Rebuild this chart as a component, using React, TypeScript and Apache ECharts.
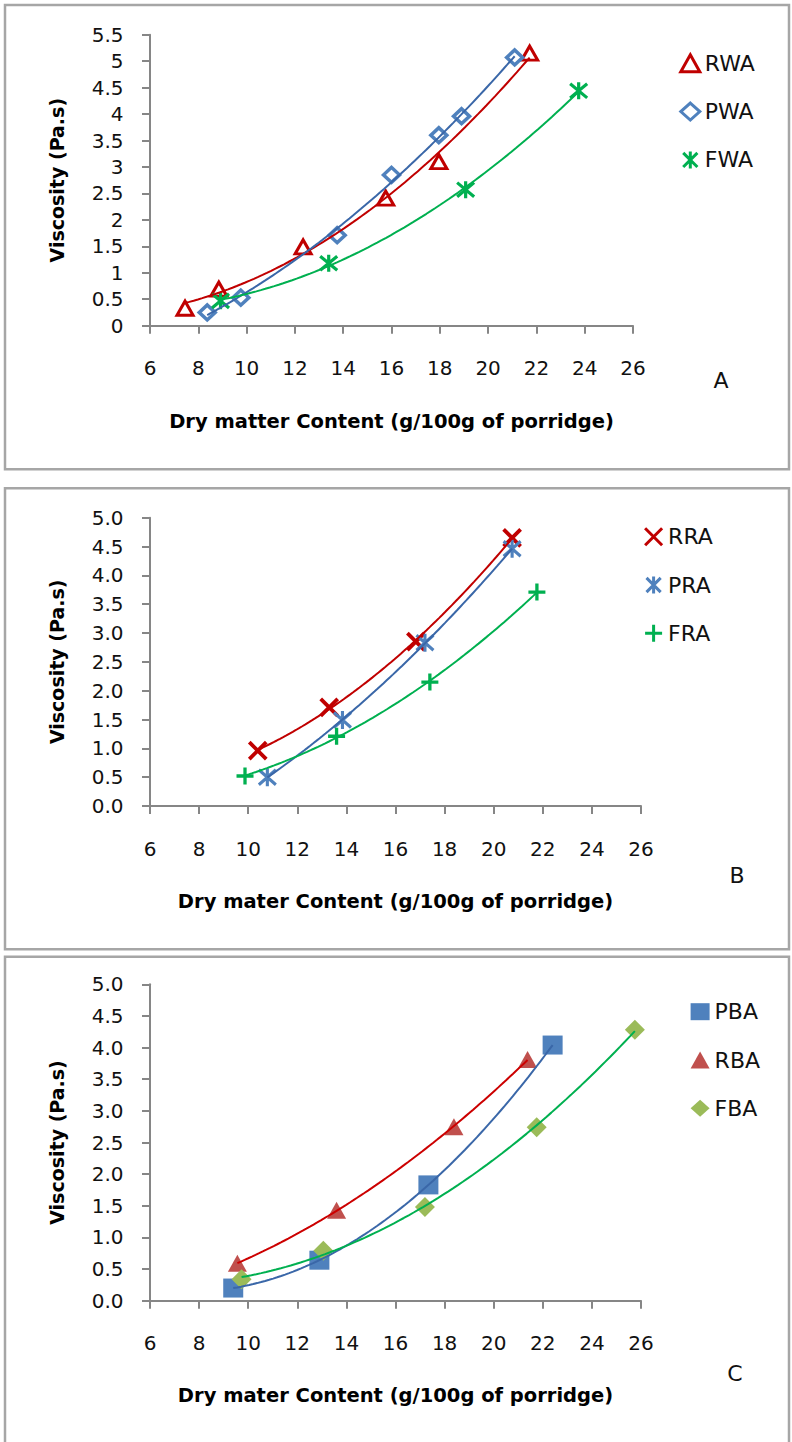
import React, { useEffect, useRef } from "react";
import * as echarts from "echarts";

// ---- Panel A : wheat-based porridges ----
const rwaX = [7.45, 8.85, 12.34, 15.76, 17.96, 21.72];
const rwaY = [0.33, 0.69, 1.49, 2.41, 3.1, 5.15];
const pwaX = [8.37, 9.76, 13.75, 16.0, 17.96, 18.9, 21.1];
const pwaY = [0.25, 0.53, 1.71, 2.85, 3.6, 3.96, 5.07];
const fwaX = [8.92, 13.4, 19.07, 23.75];
const fwaY = [0.47, 1.18, 2.57, 4.44];

// ---- Panel B ----
const rraX = [10.39, 13.3, 16.83, 20.75];
const rraY = [0.96, 1.71, 2.85, 4.65];
const praX = [10.78, 13.84, 17.2, 20.75];
const praY = [0.5, 1.49, 2.83, 4.46];
const fraX = [9.87, 13.6, 17.4, 21.76];
const fraY = [0.52, 1.21, 2.15, 3.71];

// ---- Panel C ----
const pbaX = [9.39, 12.9, 17.34, 22.4];
const pbaY = [0.2, 0.64, 1.83, 4.04];
const rbaX = [9.56, 13.6, 18.38, 21.38];
const rbaY = [0.59, 1.43, 2.75, 3.81];
const fbaX = [9.73, 13.06, 17.2, 21.75, 25.75];
const fbaY = [0.34, 0.79, 1.48, 2.74, 4.28];

// Axis ranges
const xMin = 6;
const xMax = 26;
const xStep = 2;
const yStep = 0.5;
const yMaxA = 5.5;
const yMaxBC = 5.0;

const xTitleA = "Dry matter Content (g/100g of porridge)";
const xTitleBC = "Dry mater Content (g/100g of porridge)";
const yTitle = "Viscosity (Pa.s)";
const panelLetters = ["A", "B", "C"];

const FONT = "'DejaVu Sans', sans-serif";
const AXIS_GREY = "#868686";

const X_MARK = "path://M0,0L10,10M10,0L0,10";
const STAR_MARK = "path://M0,1L10,11M10,1L0,11M5,0L5,12";
const PLUS_MARK = "path://M0,5L10,5M5,0L5,10";

const pairs = (xs: number[], ys: number[]) => xs.map((x, i) => [x, ys[i]]);

// Second-order least-squares trendline evaluated across the series' x range.
function quadTrend(xs: number[], ys: number[], steps = 80): number[][] {
  let n = xs.length, s1 = 0, s2 = 0, s3 = 0, s4 = 0, t0 = 0, t1 = 0, t2 = 0;
  for (let i = 0; i < xs.length; i++) {
    const x = xs[i], y = ys[i];
    s1 += x; s2 += x * x; s3 += x * x * x; s4 += x * x * x * x;
    t0 += y; t1 += x * y; t2 += x * x * y;
  }
  const det = (m: number[][]) =>
    m[0][0] * (m[1][1] * m[2][2] - m[1][2] * m[2][1]) -
    m[0][1] * (m[1][0] * m[2][2] - m[1][2] * m[2][0]) +
    m[0][2] * (m[1][0] * m[2][1] - m[1][1] * m[2][0]);
  const M = [[n, s1, s2], [s1, s2, s3], [s2, s3, s4]];
  const T = [t0, t1, t2];
  const D = det(M);
  const coef = [0, 1, 2].map((k) => det(M.map((row, r) => row.map((v, c) => (c === k ? T[r] : v)))) / D);
  const lo = Math.min(...xs), hi = Math.max(...xs);
  const out: number[][] = [];
  for (let i = 0; i <= steps; i++) {
    const x = lo + ((hi - lo) * i) / steps;
    out.push([x, coef[0] + coef[1] * x + coef[2] * x * x]);
  }
  return out;
}

type PanelCfg = {
  grid: { left: number; top: number; width: number; height: number };
  yMax: number;
  fixed: boolean;
  xTitle: string;
  xNameGap: number;
  legendLeft: number;
  legendTop: number;
  legendBorder: number;
  items: {
    name: string;
    xs: number[];
    ys: number[];
    symbol: string;
    size: number | number[];
    color: string;
    stroke: string;
    border: number;
    line: string;
  }[];
};

const panels: PanelCfg[] = [
  {
    grid: { left: 150, top: 34.7, width: 483, height: 291 },
    yMax: yMaxA,
    fixed: false,
    xTitle: xTitleA,
    xNameGap: 96,
    legendLeft: 679.3,
    legendTop: 52.3,
    legendBorder: 3,
    items: [
      { name: "RWA", xs: rwaX, ys: rwaY, symbol: "triangle", size: [16, 14], color: "#ffffff", stroke: "#c00000", border: 3, line: "#c00000" },
      { name: "PWA", xs: pwaX, ys: pwaY, symbol: "diamond", size: [16, 15], color: "#ffffff", stroke: "#4f81bd", border: 3.5, line: "#3a67a8" },
      { name: "FWA", xs: fwaX, ys: fwaY, symbol: STAR_MARK, size: [17, 17], color: "#00b050", stroke: "#00b050", border: 3.2, line: "#00b050" },
    ],
  },
  {
    grid: { left: 150, top: 517.7, width: 491, height: 288.3 },
    yMax: yMaxBC,
    fixed: true,
    xTitle: xTitleBC,
    xNameGap: 95.7,
    legendLeft: 643.6,
    legendTop: 525.7,
    legendBorder: 3,
    items: [
      { name: "RRA", xs: rraX, ys: rraY, symbol: X_MARK, size: [17, 17], color: "#c00000", stroke: "#c00000", border: 3.8, line: "#c00000" },
      { name: "PRA", xs: praX, ys: praY, symbol: STAR_MARK, size: [17, 18], color: "#4f81bd", stroke: "#4f81bd", border: 3.2, line: "#3a67a8" },
      { name: "FRA", xs: fraX, ys: fraY, symbol: PLUS_MARK, size: [17, 17], color: "#00b050", stroke: "#00b050", border: 3.3, line: "#00b050" },
    ],
  },
  {
    grid: { left: 150, top: 984.3, width: 491, height: 316.4 },
    yMax: yMaxBC,
    fixed: true,
    xTitle: xTitleBC,
    xNameGap: 94.3,
    legendLeft: 690.6,
    legendTop: 1000.7,
    legendBorder: 0,
    items: [
      { name: "PBA", xs: pbaX, ys: pbaY, symbol: "rect", size: [20, 19], color: "#4f81bd", stroke: "#4f81bd", border: 0, line: "#3a67a8" },
      { name: "RBA", xs: rbaX, ys: rbaY, symbol: "triangle", size: [19, 17], color: "#c0504d", stroke: "#c0504d", border: 0, line: "#cc0000" },
      { name: "FBA", xs: fbaX, ys: fbaY, symbol: "diamond", size: [20, 20], color: "#9bbb59", stroke: "#9bbb59", border: 0, line: "#00b050" },
    ],
  },
];

const frames = [
  { y: 5, h: 464.3 },
  { y: 488.3, h: 461 },
  { y: 956.7, h: 520 },
];
const letterPos = [
  { x: 721, y: 380 },
  { x: 737, y: 875 },
  { x: 735, y: 1373 },
];

function buildOption() {
  const grid: any[] = [];
  const xAxis: any[] = [];
  const yAxis: any[] = [];
  const series: any[] = [];
  const legend: any[] = [];

  panels.forEach((p, gi) => {
    grid.push({ ...p.grid, containLabel: false, outerBoundsMode: "none" });
    xAxis.push({
      gridIndex: gi,
      type: "value",
      min: xMin,
      max: xMax,
      interval: xStep,
      axisLine: { show: true, onZero: false, lineStyle: { color: AXIS_GREY, width: 2 } },
      axisTick: { show: true, inside: false, length: 8, lineStyle: { color: AXIS_GREY, width: 2 } },
      axisLabel: { margin: 42.5, verticalAlign: "middle", fontSize: 20, color: "#111", fontFamily: FONT },
      splitLine: { show: false },
      name: p.xTitle,
      nameLocation: "middle",
      nameGap: p.xNameGap,
      nameTextStyle: { fontSize: 19.5, fontWeight: "bold", color: "#000", fontFamily: FONT, verticalAlign: "middle" },
    });
    yAxis.push({
      gridIndex: gi,
      type: "value",
      min: 0,
      max: p.yMax,
      interval: yStep,
      axisLine: { show: true, onZero: false, lineStyle: { color: AXIS_GREY, width: 2 } },
      axisTick: { show: true, inside: false, length: 8, lineStyle: { color: AXIS_GREY, width: 2 } },
      axisLabel: {
        margin: 26.5,
        fontSize: 20,
        color: "#111",
        fontFamily: FONT,
        formatter: p.fixed ? (v: number) => v.toFixed(1) : (v: number) => String(v),
      },
      splitLine: { show: false },
      name: yTitle,
      nameLocation: "middle",
      nameGap: 93.4,
      nameRotate: 90,
      nameTextStyle: { fontSize: 19, fontWeight: "bold", color: "#000", fontFamily: FONT, verticalAlign: "middle" },
    });

    p.items.forEach((it) => {
      series.push({
        name: it.name,
        type: "scatter",
        xAxisIndex: gi,
        yAxisIndex: gi,
        data: pairs(it.xs, it.ys),
        symbol: it.symbol,
        symbolSize: it.size,
        z: 2,
        itemStyle: { color: it.color, borderColor: it.stroke, borderWidth: it.border, opacity: 1 },
      });
      series.push({
        name: it.name + " trend",
        type: "line",
        xAxisIndex: gi,
        yAxisIndex: gi,
        data: quadTrend(it.xs, it.ys),
        showSymbol: false,
        symbol: "none",
        z: 3,
        lineStyle: { color: it.line, width: 2 },
      });
    });

    legend.push({
      orient: "vertical",
      left: p.legendLeft,
      top: p.legendTop,
      padding: 0,
      itemWidth: 19,
      itemHeight: 17,
      itemGap: 26.3,
      selectedMode: false,
      itemStyle: { borderWidth: p.legendBorder },
      textStyle: { fontSize: 22, lineHeight: 22, color: "#111", fontFamily: FONT },
      data: p.items.map((it) => it.name),
    });
  });

  const graphic: any[] = frames.map((f) => ({
    type: "rect",
    silent: true,
    shape: { x: 5, y: f.y, width: 784, height: f.h },
    style: { fill: "none", stroke: "#a6a6a6", lineWidth: 2.5 },
  }));
  panelLetters.forEach((t, i) => {
    graphic.push({
      type: "text",
      silent: true,
      x: letterPos[i].x,
      y: letterPos[i].y,
      style: {
        text: t,
        fill: "#111",
        fontSize: 22,
        fontFamily: FONT,
        align: "center",
        verticalAlign: "middle",
        textAlign: "center",
        textVerticalAlign: "middle",
      },
    });
  });

  return {
    animation: false,
    backgroundColor: "#ffffff",
    grid,
    xAxis,
    yAxis,
    series,
    legend,
    graphic,
  };
}

export default function App() {
  const ref = useRef<HTMLDivElement>(null);
  useEffect(() => {
    if (!ref.current) return;
    const chart = echarts.init(ref.current, undefined, { renderer: "svg" });
    chart.setOption(buildOption());
    return () => chart.dispose();
  }, []);
  return (
    <div
      ref={ref}
      style={{ position: "absolute", left: 0, top: 0, width: 792, height: 1442, background: "#fff" }}
    />
  );
}
